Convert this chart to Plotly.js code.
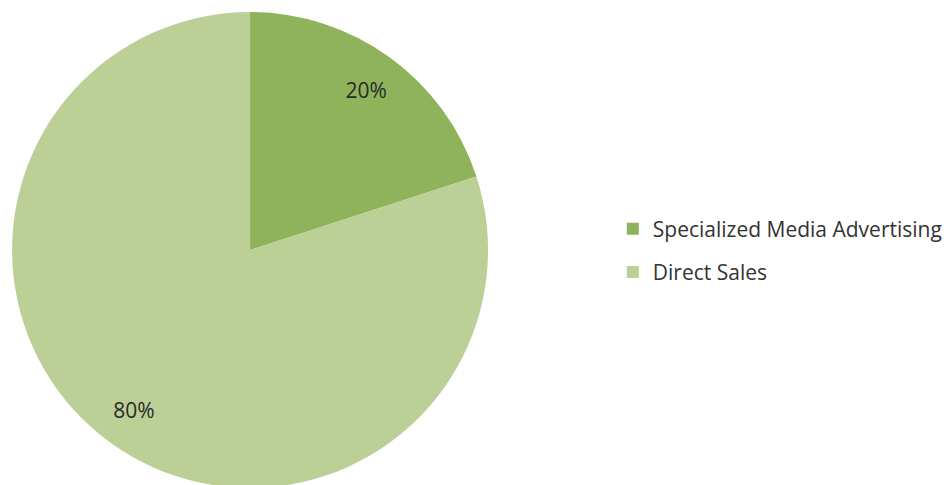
<!DOCTYPE html>
<html>
<head>
<meta charset="utf-8">
<script src="https://cdn.plot.ly/plotly-3.0.1.min.js"></script>
<style>
html,body{margin:0;padding:0;overflow:hidden;background:#fff;}
#chart{width:948px;height:490px;}
</style>
</head>
<body>
<div id="chart"></div>
<script>
var labels = ["Specialized Media Advertising", "Direct Sales"];
var values = [20, 80];
var colors = ["#8EB35A", "#BBCF96"];

var fontFam = "Open Sans, Liberation Sans, sans-serif";

var pieMain = {
  type: "pie",
  labels: labels,
  values: values,
  sort: false,
  direction: "clockwise",
  rotation: 0,
  marker: {colors: colors, line: {width: 0}},
  textinfo: "none",
  hoverinfo: "label+percent",
  domain: {x: [3.5/948, 502.5/948], y: [0, 1]},
  showlegend: false
};

var pieText = {
  type: "pie",
  labels: labels,
  values: values,
  sort: false,
  direction: "clockwise",
  rotation: 0,
  hole: 0.66,
  marker: {colors: ["rgba(0,0,0,0)", "rgba(0,0,0,0)"], line: {width: 0}},
  textinfo: "percent",
  texttemplate: "%{percent:.0%}",
  textposition: "inside",
  insidetextorientation: "horizontal",
  textfont: {family: fontFam, size: 21, color: "#2a2a2a"},
  hoverinfo: "skip",
  domain: {x: [3.5/948, 502.5/948], y: [0, 1]},
  showlegend: false
};

// legend entries (one per category), drawn by Plotly's legend
var legendTraces = labels.map(function (lab, i) {
  return {
    type: "scatter",
    mode: "markers",
    x: [null], y: [null],
    name: lab,
    legendgroup: "g" + i,
    marker: {symbol: "square", size: 12, color: colors[i]},
    hoverinfo: "skip",
    showlegend: true
  };
});

var layout = {
  width: 948,
  height: 490,
  margin: {l: 0, r: 0, t: 12, b: 2},
  paper_bgcolor: "#ffffff",
  plot_bgcolor: "rgba(0,0,0,0)",
  xaxis: {visible: false, domain: [0.98, 1]},
  yaxis: {visible: false},
  legend: {
    x: 620/948, y: 0.499, xanchor: "left", yanchor: "middle",
    traceorder: "grouped",
    tracegroupgap: 13,
    font: {family: fontFam, size: 21, color: "#333333"},
    bgcolor: "rgba(0,0,0,0)"
  }
};

Plotly.newPlot("chart", [pieMain, pieText].concat(legendTraces), layout, {displayModeBar: false, staticPlot: true});
</script>
</body>
</html>
